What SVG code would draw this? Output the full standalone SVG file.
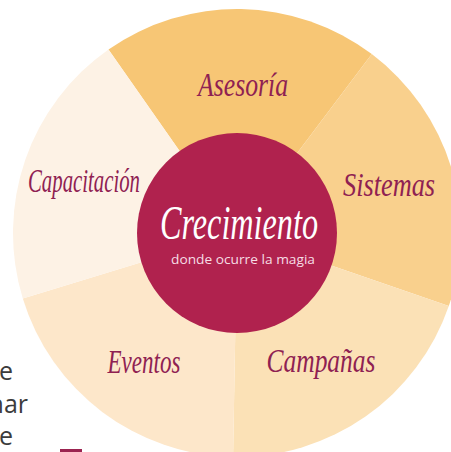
<svg xmlns="http://www.w3.org/2000/svg" width="451" height="452" viewBox="0 0 451 452">
<style>
.lbl{font-family:"Liberation Serif","DejaVu Serif",serif;font-style:italic;font-size:34px;fill:#8f2152;text-anchor:middle}
.side{font-family:"Open Sans","Liberation Sans",sans-serif;font-size:25px;fill:#3c3c3c;text-anchor:end}
</style>
<rect width="451" height="452" fill="#ffffff"/>
<text class="side" x="13" y="380">e</text>
<text class="side" x="28" y="413">nar</text>
<text class="side" x="13" y="445">e</text>
<rect x="60" y="449" width="22" height="3" fill="#9b2350"/>
<g id="asesoria">
<path d="M237,233 L108.5,49.5 A224,224 0 0 1 371.8,54.1 Z" fill="#f7c675"/>
<text class="lbl" x="243" y="96" textLength="90" lengthAdjust="spacingAndGlyphs">Asesoría</text>
</g>
<g id="sistemas">
<path d="M237,233 L371.8,54.1 A224,224 0 0 1 448.8,305.9 Z" fill="#f9d08d"/>
<text class="lbl" x="389" y="196" textLength="92" lengthAdjust="spacingAndGlyphs">Sistemas</text>
</g>
<g id="campanas">
<path d="M237,233 L448.8,305.9 A224,224 0 0 1 233.1,457 Z" fill="#fbe1b6"/>
<text class="lbl" x="321" y="372" textLength="109" lengthAdjust="spacingAndGlyphs">Campañas</text>
</g>
<g id="eventos">
<path d="M237,233 L233.1,457 A224,224 0 0 1 22.8,298.5 Z" fill="#fde7ca"/>
<text class="lbl" x="144" y="373" textLength="73" lengthAdjust="spacingAndGlyphs">Eventos</text>
</g>
<g id="capacitacion">
<path d="M237,233 L22.8,298.5 A224,224 0 0 1 108.5,49.5 Z" fill="#fdf2e5"/>
<text class="lbl" x="84" y="192" textLength="112" lengthAdjust="spacingAndGlyphs">Capacitación</text>
</g>
<g id="crecimiento">
<circle cx="237" cy="233" r="100" fill="#b0224e"/>
<text x="239" y="239" font-family="Liberation Serif,DejaVu Serif,serif" font-style="italic" font-size="48" fill="#ffffff" text-anchor="middle" textLength="158" lengthAdjust="spacingAndGlyphs">Crecimiento</text>
<text x="243" y="264" font-family="Open Sans,Liberation Sans,sans-serif" font-size="13" fill="#f6dde5" text-anchor="middle" textLength="144" lengthAdjust="spacingAndGlyphs">donde ocurre la magia</text>
</g>
<g id="connectors"></g>
</svg>
